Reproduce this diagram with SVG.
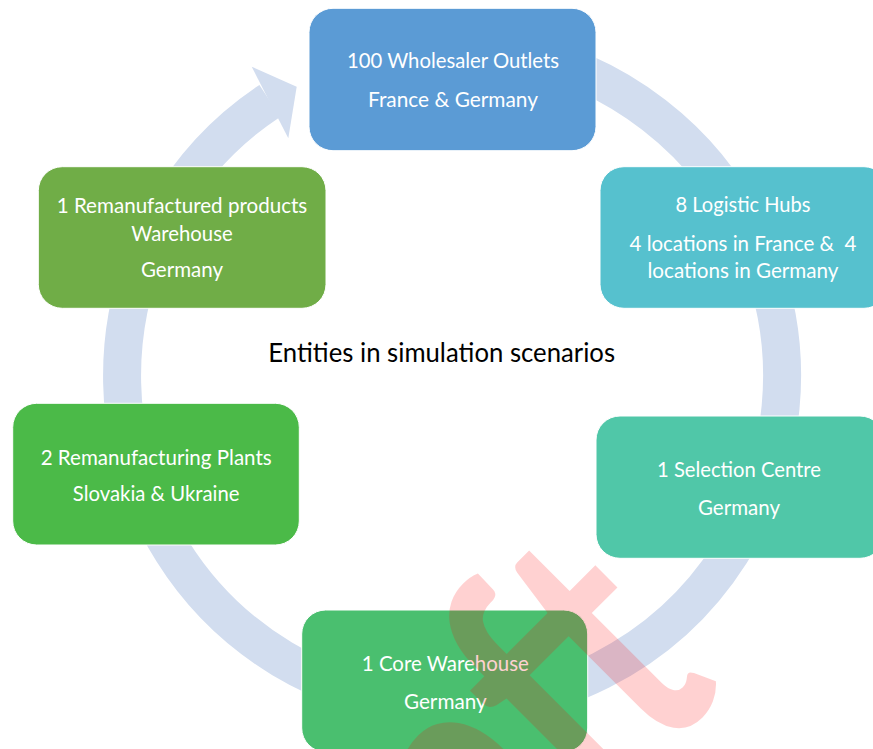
<svg xmlns="http://www.w3.org/2000/svg" width="873" height="749" viewBox="0 0 873 749">
  <style>
    .node rect { stroke: #ffffff; stroke-width: 1; }
    .label { font-family: "Lato", "Carlito", "Liberation Sans", sans-serif; font-size: 22px; fill: #ffffff; text-anchor: middle; }
    .title { font-family: "Lato", "Carlito", "Liberation Sans", sans-serif; font-size: 27.5px; fill: #000000; text-anchor: middle; }
    .ring { fill: none; stroke: #D2DDEF; stroke-width: 38; }
    .ring-head { fill: #D2DDEF; }
    .watermark { font-family: "Lato", "Liberation Sans", sans-serif; font-weight: 700; font-size: 265px; fill: #ff0000; fill-opacity: 0.18; text-anchor: end; }
  </style>

  <rect width="873" height="749" fill="#ffffff"/>

  <!-- circular arrow behind the entities -->
  <g id="connectors">
    <path class="ring" d="M 339.1 65.9 A 330 330 0 1 1 269.9 100.8"/>
    <polygon class="ring-head" points="251.7,66.7 296.7,86.7 288.3,138.3"/>
  </g>

  <g id="node-wholesalers" class="node">
    <rect x="309" y="8.3" width="287" height="142.4" rx="24" fill="#5B9BD5"/>
    <text class="label" x="453" y="68.3" textLength="212" lengthAdjust="spacingAndGlyphs">100 Wholesaler Outlets</text>
    <text class="label" x="453" y="106.7" textLength="170" lengthAdjust="spacingAndGlyphs">France &amp; Germany</text>
  </g>

  <g id="node-logistic-hubs" class="node">
    <rect x="600" y="166.7" width="288" height="141.6" rx="24" fill="#56C1CE"/>
    <text class="label" x="743" y="212.3" textLength="135" lengthAdjust="spacingAndGlyphs">8 Logistic Hubs</text>
    <text class="label" x="743" y="250.7" textLength="227" lengthAdjust="spacingAndGlyphs" xml:space="preserve">4 locations in France &amp;  4</text>
    <text class="label" x="743" y="278" textLength="191" lengthAdjust="spacingAndGlyphs">locations in Germany</text>
  </g>

  <g id="node-selection-centre" class="node">
    <rect x="596" y="416" width="288" height="142.3" rx="24" fill="#50C7A8"/>
    <text class="label" x="739" y="476.8" textLength="164" lengthAdjust="spacingAndGlyphs">1 Selection Centre</text>
    <text class="label" x="739" y="514.8" textLength="82" lengthAdjust="spacingAndGlyphs">Germany</text>
  </g>

  <g id="node-core-warehouse" class="node">
    <rect x="301.7" y="610" width="286" height="142" rx="24" fill="#4ABF6F"/>
    <text class="label" x="445.3" y="670.7" textLength="167" lengthAdjust="spacingAndGlyphs">1 Core Warehouse</text>
    <text class="label" x="445.3" y="709" textLength="82.7" lengthAdjust="spacingAndGlyphs">Germany</text>
  </g>

  <g id="node-remanufacturing-plants" class="node">
    <rect x="12.7" y="403.3" width="286.6" height="141.7" rx="24" fill="#4BBA48"/>
    <text class="label" x="156.2" y="465" textLength="231" lengthAdjust="spacingAndGlyphs">2 Remanufacturing Plants</text>
    <text class="label" x="156.2" y="500.5" textLength="166.7" lengthAdjust="spacingAndGlyphs">Slovakia &amp; Ukraine</text>
  </g>

  <g id="node-products-warehouse" class="node">
    <rect x="38.3" y="166.7" width="287.7" height="141.6" rx="24" fill="#70AD47"/>
    <text class="label" x="182" y="212.7" textLength="250.6" lengthAdjust="spacingAndGlyphs">1 Remanufactured products</text>
    <text class="label" x="182" y="240.7" textLength="101.3" lengthAdjust="spacingAndGlyphs">Warehouse</text>
    <text class="label" x="182" y="277" textLength="82" lengthAdjust="spacingAndGlyphs">Germany</text>
  </g>

  <g id="title">
    <text class="title" x="441.7" y="362.3" textLength="346.7" lengthAdjust="spacingAndGlyphs">Entities in simulation scenarios</text>
  </g>

  <!-- diagonal draft watermark over the page -->
  <text class="watermark" transform="translate(726.4,689.6) rotate(-45) scale(1,1.34)">Draft</text>
</svg>
